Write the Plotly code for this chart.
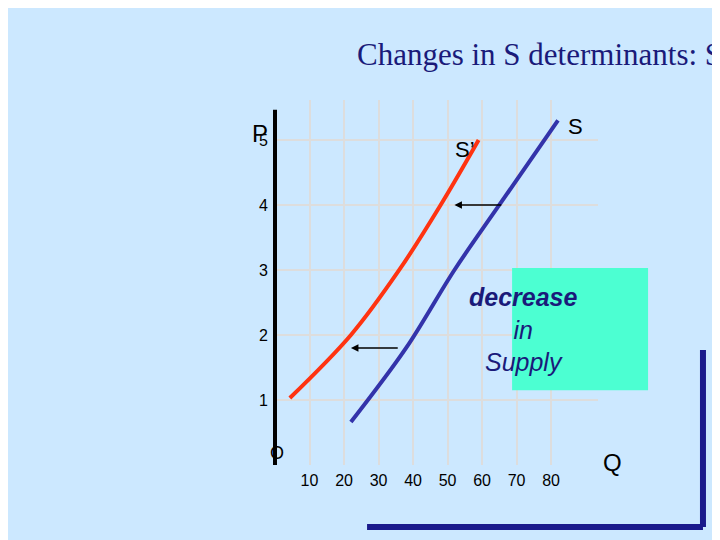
import plotly.graph_objects as go

bg = "#CCE8FF"
# supply curves (Q, P)
s_old_q = [22, 38, 52, 65, 82]
s_old_p = [0.66, 1.8, 3, 4, 5.3]
s_new_q = [4.3, 22, 36, 48, 59]
s_new_p = [1.03, 2, 3, 4, 5]
x_ticks = [10, 20, 30, 40, 50, 60, 70, 80]
y_ticks = [1, 2, 3, 4, 5]

fig = go.Figure()
fig.add_trace(go.Scatter(x=s_new_q, y=s_new_p, mode="lines", line=dict(color="#FF3311", width=4, shape="spline", smoothing=1)))
fig.add_trace(go.Scatter(x=s_old_q, y=s_old_p, mode="lines", line=dict(color="#3333AA", width=4, shape="spline", smoothing=1)))

# shift arrows
for x0, x1, y in [(66, 52, 4), (36, 22, 1.8)]:
    fig.add_annotation(x=x1, y=y, ax=x0, ay=y, xref="x", yref="y", axref="x", ayref="y",
                       showarrow=True, arrowhead=2, arrowsize=1, arrowwidth=1.5, arrowcolor="black", text="")

txt = dict(family="Arial", color="black")
P = dict(xref="paper", yref="paper", showarrow=False)
fig.add_annotation(x=-0.077, y=0.951, text="P", font=dict(size=24, **txt), **P)
fig.add_annotation(x=-0.022, y=0, text="O", font=dict(size=18, **txt), **P)
fig.add_annotation(x=1.080, y=-0.036, text="Q", font=dict(size=24, **txt), **P)
fig.add_annotation(x=55, y=4.85, text="S’", showarrow=False, font=dict(size=22, **txt))
fig.add_annotation(x=87, y=5.2, text="S", showarrow=False, font=dict(size=22, **txt))
fig.add_annotation(x=0.248, y=1.178, text="Changes in S determinants: Shifts in S",
                   font=dict(family="Liberation Serif", size=31, color="#1A1A7A"), **P)

fig.add_shape(type="rect", xref="paper", yref="paper", x0=0.734, x1=1.155, y0=0.205, y1=0.540,
              fillcolor="#4CFFD2", line_width=0, layer="above")
fig.add_annotation(x=0.944, y=0.370, text="<i><b>decrease</b></i><br><i>in</i><br><i>Supply</i>",
                   font=dict(family="Arial", size=25, color="#1A1A7A"), align="center", **P)
fig.add_shape(type="line", xref="paper", yref="paper", x0=0, x1=0, y0=0, y1=0.973,
              line=dict(color="black", width=4))
fig.add_shape(type="line", xref="paper", yref="paper", x0=0.285, x1=1.325, y0=-0.170, y1=-0.170,
              line=dict(color="#1A1A8C", width=6))
fig.add_shape(type="line", xref="paper", yref="paper", x0=1.325, x1=1.325, y0=-0.170, y1=0.315,
              line=dict(color="#1A1A8C", width=6))

fig.update_layout(width=720, height=540, paper_bgcolor=bg, plot_bgcolor=bg, showlegend=False,
                  margin=dict(l=267, r=130, t=92, b=83), font=dict(family="Arial", size=16, color="black"))
fig.update_xaxes(range=[0, 93.6], tickmode="array", tickvals=x_ticks, showgrid=True, gridcolor="#DDDDDD",
                 gridwidth=2, zeroline=False, showline=False, ticks="", ticklabelstandoff=4)
fig.update_yaxes(range=[0, 5.615], tickmode="array", tickvals=y_ticks, showgrid=True, gridcolor="#DDDDDD",
                 gridwidth=2, zeroline=False, showline=False, ticks="", ticklabelstandoff=6)
fig.write_html("out.html")
